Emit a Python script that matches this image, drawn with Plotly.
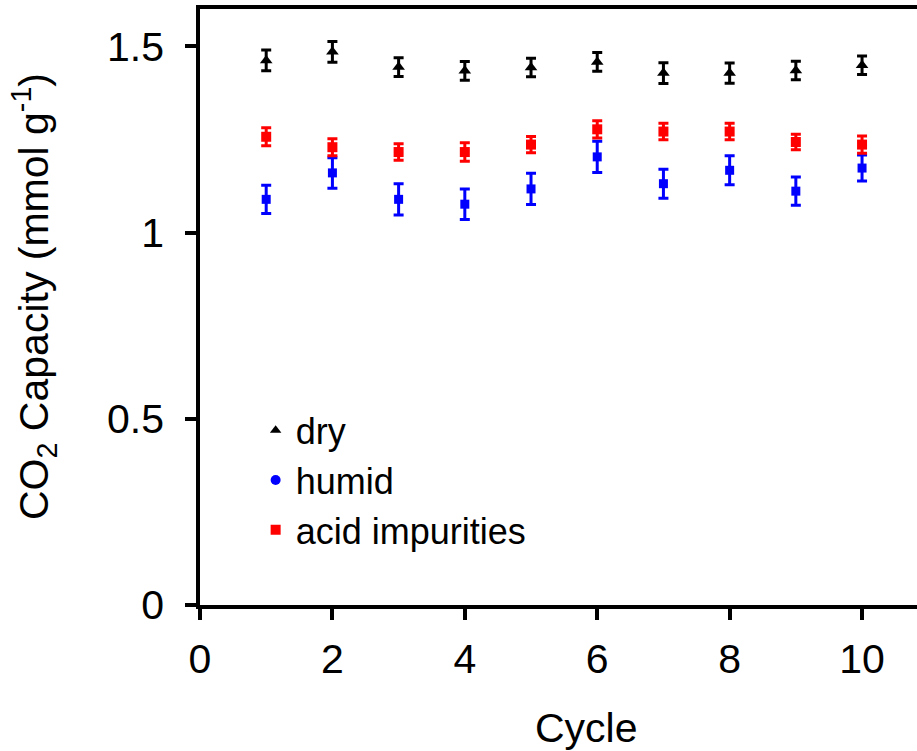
import plotly.graph_objects as go

cycles = [1, 2, 3, 4, 5, 6, 7, 8, 9, 10]

dry = [1.462, 1.485, 1.444, 1.434, 1.443, 1.458, 1.428, 1.428, 1.435, 1.449]
dry_err = [0.028, 0.028, 0.025, 0.025, 0.025, 0.025, 0.028, 0.027, 0.025, 0.025]

humid = [1.089, 1.160, 1.089, 1.076, 1.117, 1.203, 1.131, 1.167, 1.111, 1.173]
humid_err = [0.038, 0.041, 0.042, 0.041, 0.042, 0.042, 0.039, 0.039, 0.038, 0.035]

acid = [1.257, 1.229, 1.216, 1.216, 1.236, 1.277, 1.271, 1.271, 1.243, 1.236]
acid_err = [0.024, 0.023, 0.022, 0.025, 0.022, 0.023, 0.022, 0.022, 0.021, 0.023]

x_ticks = [0, 2, 4, 6, 8, 10]
y_ticks = [0, 0.5, 1, 1.5]

FONT = "Arial, Liberation Sans, sans-serif"

fig = go.Figure()

series = [
    ("dry", dry, dry_err, "#000000", "triangle-up", 11, "triangle-up", 10),
    ("humid", humid, humid_err, "#0000ff", "square", 9, "circle", 10),
    ("acid impurities", acid, acid_err, "#ff0000", "square", 10, "square", 10),
]

for name, vals, errs, color, sym, size, lsym, lsize in series:
    fig.add_trace(go.Scatter(
        x=cycles, y=vals, mode="markers", name=name, showlegend=False,
        marker=dict(symbol=sym, size=size, color=color),
        error_y=dict(type="data", array=errs, visible=True, color=color,
                     thickness=3, width=5),
    ))

for name, vals, errs, color, sym, size, lsym, lsize in series:
    fig.add_trace(go.Scatter(
        x=[None], y=[None], mode="markers", name=name, showlegend=True,
        marker=dict(symbol=lsym, size=lsize, color=color),
    ))

fig.update_layout(
    width=917, height=751,
    margin=dict(l=200, r=0, t=9, b=146),
    paper_bgcolor="white", plot_bgcolor="white",
    font=dict(family=FONT, color="black", size=40),
    showlegend=True,
    legend=dict(x=0.0776, y=0.3434, xanchor="left", yanchor="top",
                bgcolor="rgba(0,0,0,0)", font=dict(size=36, family=FONT),
                tracegroupgap=0, itemwidth=30),
    xaxis=dict(range=[0, 10.83], tickvals=x_ticks, showgrid=False, zeroline=False,
               showline=True, linecolor="black", linewidth=3.5, mirror=True,
               ticks="outside", ticklen=11, tickwidth=3.5, tickcolor="black",
               ticklabelstandoff=4,
               tickfont=dict(size=41, family=FONT)),
    yaxis=dict(range=[0, 1.6], tickvals=y_ticks, showgrid=False, zeroline=False,
               showline=True, linecolor="black", linewidth=3.5, mirror=False,
               ticks="outside", ticklen=11, tickwidth=3.5, tickcolor="black",
               ticklabelstandoff=13,
               tickfont=dict(size=41, family=FONT)),
    annotations=[
        dict(text="Cycle", xref="paper", yref="paper", x=(586 - 200) / 717,
             y=(605 - 728) / 596, xanchor="center", yanchor="middle",
             showarrow=False, font=dict(size=41, family=FONT)),
        dict(text="CO<sub>2</sub> Capacity (mmol g<sup>-1</sup>)", xref="paper", yref="paper",
             x=(34 - 200) / 717, y=(605 - 297) / 596, xanchor="center", yanchor="middle",
             textangle=-90, showarrow=False, font=dict(size=41, family=FONT)),
    ],
)

fig.write_html("out.html")
